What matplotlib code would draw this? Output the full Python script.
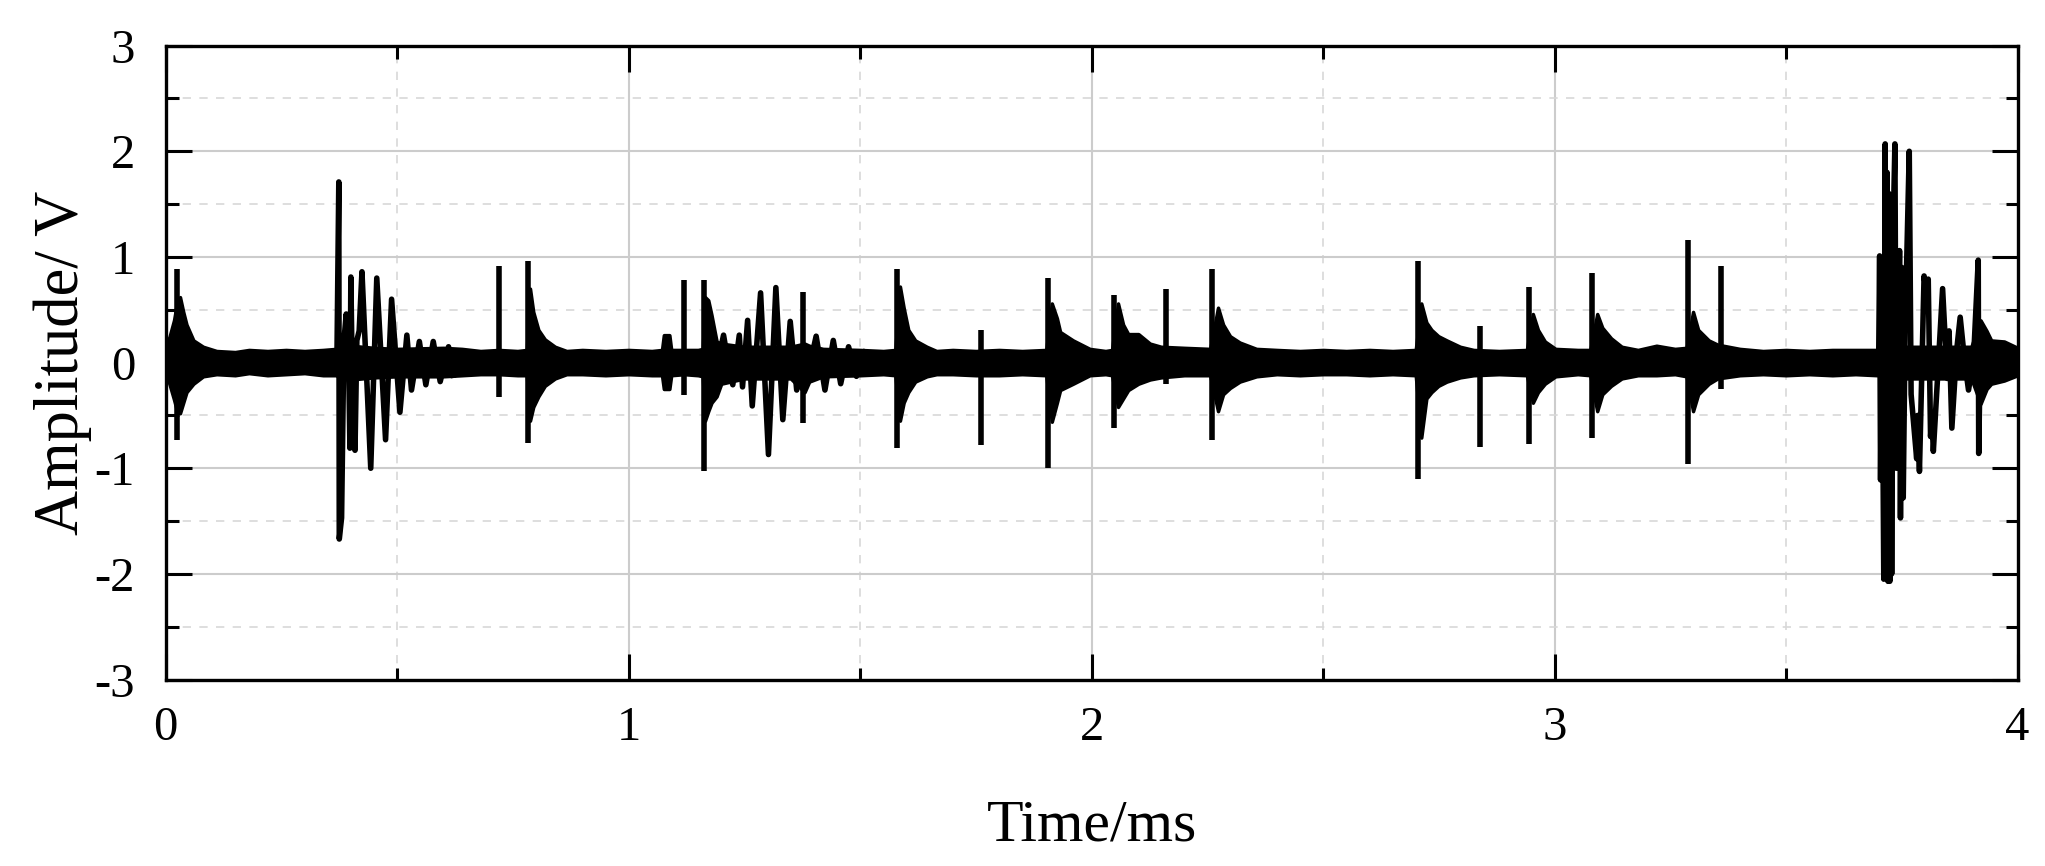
import numpy as np
import matplotlib
matplotlib.use("Agg")
import matplotlib.pyplot as plt
from matplotlib.ticker import MultipleLocator

# DATA

# envelope of the dense background noise band (upper / lower edge)
env_t = [0.000, 0.008, 0.018, 0.024, 0.031, 0.038, 0.045, 0.060, 0.081, 0.110,
         0.150, 0.180, 0.220, 0.260, 0.300, 0.340, 0.368, 0.380, 0.400, 0.450,
         0.500, 0.600, 0.640, 0.680, 0.720, 0.760, 0.780, 0.787, 0.794, 0.805,
         0.819, 0.841, 0.866, 0.900, 0.950, 1.000, 1.050, 1.072, 1.076, 1.088,
         1.092, 1.120, 1.150, 1.160, 1.165, 1.172, 1.179, 1.190, 1.200, 1.250,
         1.350, 1.380, 1.390, 1.420, 1.500, 1.550, 1.576, 1.586, 1.594, 1.604,
         1.619, 1.644, 1.665, 1.700, 1.750, 1.800, 1.850, 1.902, 1.914, 1.925,
         1.932, 1.960, 1.996, 2.030, 2.044, 2.057, 2.068, 2.079, 2.101, 2.126,
         2.150, 2.200, 2.256, 2.273, 2.284, 2.299, 2.320, 2.356, 2.400, 2.450,
         2.500, 2.550, 2.600, 2.650, 2.700, 2.712, 2.723, 2.734, 2.749, 2.767,
         2.796, 2.825, 2.880, 2.940, 2.953, 2.964, 2.979, 3.002, 3.050, 3.077,
         3.092, 3.103, 3.122, 3.145, 3.180, 3.220, 3.260, 3.285, 3.299, 3.310,
         3.333, 3.352, 3.400, 3.450, 3.500, 3.550, 3.600, 3.650, 3.698, 3.710,
         3.900, 3.920, 3.933, 3.943, 3.971, 4.000]
env_hi = [0.18, 0.24, 0.40, 0.55, 0.62, 0.48, 0.36, 0.21, 0.15, 0.11,
          0.10, 0.12, 0.11, 0.12, 0.11, 0.12, 0.13, 0.15, 0.16, 0.14,
          0.13, 0.14, 0.13, 0.11, 0.12, 0.11, 0.12, 0.70, 0.48, 0.31,
          0.22, 0.15, 0.11, 0.12, 0.11, 0.12, 0.11, 0.12, 0.26, 0.26,
          0.12, 0.12, 0.12, 0.13, 0.62, 0.59, 0.45, 0.20, 0.18, 0.15,
          0.15, 0.18, 0.16, 0.13, 0.12, 0.11, 0.12, 0.72, 0.52, 0.31,
          0.21, 0.15, 0.11, 0.12, 0.11, 0.12, 0.11, 0.12, 0.56, 0.42,
          0.29, 0.21, 0.13, 0.11, 0.12, 0.56, 0.36, 0.27, 0.27, 0.18,
          0.15, 0.14, 0.13, 0.52, 0.36, 0.25, 0.19, 0.13, 0.12, 0.11,
          0.12, 0.11, 0.12, 0.11, 0.12, 0.56, 0.38, 0.31, 0.25, 0.21,
          0.15, 0.12, 0.11, 0.12, 0.46, 0.31, 0.20, 0.13, 0.12, 0.12,
          0.46, 0.33, 0.23, 0.15, 0.12, 0.16, 0.13, 0.14, 0.48, 0.31,
          0.21, 0.17, 0.13, 0.11, 0.12, 0.11, 0.12, 0.12, 0.12, 0.15,
          0.15, 0.40, 0.30, 0.21, 0.20, 0.14]
env_lo = [-0.08, -0.20, -0.35, -0.45, -0.48, -0.38, -0.28, -0.20, -0.13, -0.11,
          -0.12, -0.10, -0.12, -0.11, -0.10, -0.12, -0.12, -0.15, -0.16, -0.14,
          -0.13, -0.13, -0.12, -0.11, -0.11, -0.12, -0.12, -0.55, -0.42, -0.32,
          -0.22, -0.15, -0.11, -0.11, -0.12, -0.11, -0.12, -0.12, -0.25, -0.25,
          -0.12, -0.11, -0.12, -0.13, -0.55, -0.46, -0.38, -0.32, -0.20, -0.15,
          -0.15, -0.28, -0.18, -0.13, -0.12, -0.11, -0.12, -0.55, -0.38, -0.28,
          -0.18, -0.13, -0.11, -0.11, -0.12, -0.12, -0.11, -0.12, -0.56, -0.38,
          -0.26, -0.20, -0.12, -0.11, -0.12, -0.42, -0.34, -0.26, -0.20, -0.16,
          -0.14, -0.12, -0.12, -0.46, -0.30, -0.24, -0.18, -0.13, -0.11, -0.12,
          -0.11, -0.11, -0.12, -0.11, -0.12, -0.71, -0.34, -0.28, -0.22, -0.18,
          -0.14, -0.12, -0.11, -0.12, -0.38, -0.28, -0.20, -0.13, -0.11, -0.12,
          -0.46, -0.30, -0.22, -0.15, -0.12, -0.12, -0.11, -0.13, -0.46, -0.30,
          -0.20, -0.15, -0.12, -0.11, -0.12, -0.11, -0.12, -0.11, -0.12, -0.15,
          -0.15, -0.39, -0.25, -0.20, -0.17, -0.12]

# isolated impulses: time, top, bottom
spike_t = [0.025, 0.719, 0.783, 1.120, 1.163, 1.377, 1.580, 1.760, 1.906,
           2.048, 2.160, 2.261, 2.706, 2.839, 2.945, 3.081, 3.289, 3.359]
spike_hi = [0.89, 0.91, 0.96, 0.78, 0.78, 0.67, 0.89, 0.31, 0.80,
            0.64, 0.70, 0.89, 0.96, 0.35, 0.72, 0.85, 1.16, 0.91]
spike_lo = [-0.73, -0.33, -0.76, -0.31, -1.03, -0.57, -0.81, -0.78, -1.00,
            -0.62, -0.20, -0.73, -1.10, -0.80, -0.77, -0.71, -0.96, -0.25]

# ringing bursts, traced peak by peak
burst1_t = [0.370, 0.374, 0.375, 0.380, 0.385, 0.390, 0.395, 0.398, 0.400, 0.404,
            0.409, 0.413, 0.418, 0.424, 0.443, 0.456, 0.475, 0.488, 0.506, 0.521,
            0.531, 0.548, 0.562, 0.578, 0.593, 0.611, 0.621]
burst1_v = [0.05, 1.71, -1.67, -1.47, 0.20, 0.46, 0.10, -0.81, 0.81, -0.40,
            -0.83, 0.21, 0.30, 0.86, -1.00, 0.80, -0.73, 0.60, -0.47, 0.26,
            -0.26, 0.20, -0.21, 0.20, -0.18, 0.15, -0.12]

burst2_t = [1.195, 1.205, 1.215, 1.225, 1.239, 1.246, 1.257, 1.267, 1.285, 1.302,
            1.318, 1.333, 1.349, 1.363, 1.372, 1.390, 1.405, 1.424, 1.442, 1.458,
            1.475, 1.492, 1.511]
burst2_v = [0.05, 0.26, 0.00, -0.21, 0.26, -0.23, 0.40, -0.41, 0.66, -0.87,
            0.71, -0.54, 0.39, -0.26, 0.00, -0.05, 0.25, -0.26, 0.21, -0.20,
            0.15, -0.13, 0.10]

burst3_t = [3.700, 3.702, 3.704, 3.707, 3.711, 3.714, 3.716, 3.718, 3.720, 3.722,
            3.724, 3.726, 3.728, 3.731, 3.735, 3.738, 3.740, 3.745, 3.747, 3.750,
            3.753, 3.757, 3.766, 3.770, 3.782, 3.784, 3.788, 3.798, 3.803, 3.807,
            3.812, 3.815, 3.818, 3.829, 3.838, 3.848, 3.852, 3.858, 3.868, 3.876,
            3.886, 3.894, 3.905, 3.915, 3.916, 3.920, 3.925, 3.935]
burst3_v = [0.05, 1.01, -1.11, 0.60, -2.05, 2.07, -2.00, 1.80, -2.07, 1.60,
            -2.07, 1.20, -2.00, 1.20, 2.07, -1.00, -0.70, 1.06, -1.47, 0.90,
            -1.28, 0.30, 2.00, -0.30, -0.91, -0.50, -1.03, 0.82, 0.65, 0.79,
            -0.70, -0.50, -0.84, 0.00, 0.70, -0.15, 0.30, -0.62, 0.10, 0.43,
            0.00, -0.26, 0.05, 0.97, -0.86, 0.25, -0.30, 0.15]

x_ticks = [0, 1, 2, 3, 4]
y_ticks = [-3, -2, -1, 0, 1, 2, 3]

# PLOT
plt.rcParams["font.family"] = ["Liberation Serif", "DejaVu Serif"]

fig = plt.figure(figsize=(20.45, 8.66), dpi=100)
ax = fig.add_axes([0.081, 0.2153, 0.9056, 0.732])

lw = 4.0
ax.fill_between(env_t, env_lo, env_hi, color="black", edgecolor="black", linewidth=2.5)
ax.vlines(spike_t, spike_lo, spike_hi, color="black", linewidth=lw)
for bt, bv in [(burst1_t, burst1_v), (burst2_t, burst2_v), (burst3_t, burst3_v)]:
    ax.plot(bt, bv, color="black", linewidth=lw, solid_joinstyle="round")

ax.set_xlim(0, 4)
ax.set_ylim(-3, 3)
ax.set_xticks(x_ticks)
ax.set_xticklabels([str(v) for v in x_ticks])
ax.set_yticks(y_ticks)
ax.set_yticklabels([str(v) for v in y_ticks])
ax.xaxis.set_minor_locator(MultipleLocator(0.5))
ax.yaxis.set_minor_locator(MultipleLocator(0.5))

ax.set_axisbelow(True)
ax.grid(True, which="major", color="#cccccc", linewidth=1.5, linestyle="-")
ax.grid(True, which="minor", color="#d8d8d8", linewidth=1.2, linestyle=(0, (5, 5)))

ax.tick_params(which="both", direction="in", top=True, right=True, width=2.2, colors="black")
ax.tick_params(which="major", length=19)
ax.tick_params(which="minor", length=9)
ax.tick_params(axis="x", which="major", labelsize=35, pad=19)
ax.tick_params(axis="y", which="major", labelsize=35, pad=22)

for s in ax.spines.values():
    s.set_linewidth(2.4)

ax.set_xlabel("Time/ms", fontsize=43, labelpad=36)
ax.set_ylabel("Amplitude/ V", fontsize=45, labelpad=2)

fig.savefig("out.png", dpi=100)
